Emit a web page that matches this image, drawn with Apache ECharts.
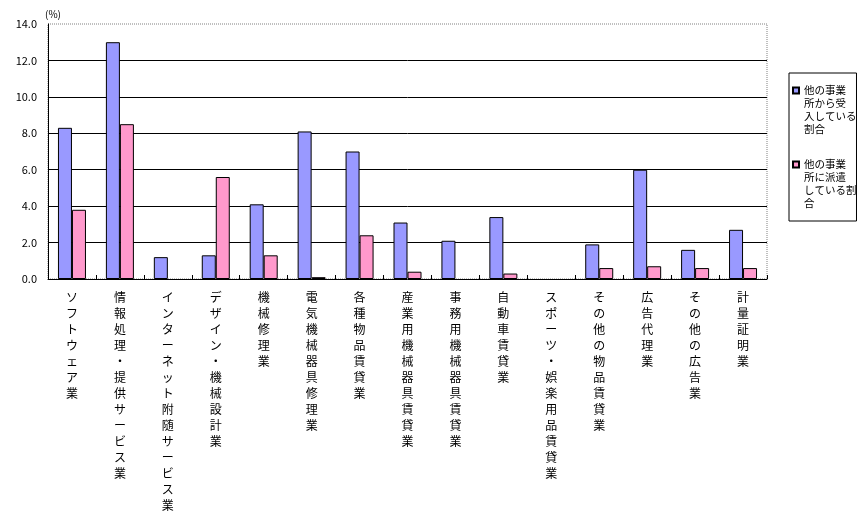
<!DOCTYPE html>
<html>
<head>
<meta charset="utf-8">
<script src="https://cdn.jsdelivr.net/npm/echarts@6/dist/echarts.min.js"></script>
<style>
  html, body { margin: 0; padding: 0; background: #fff; }
  #chart { width: 863px; height: 521px; }
</style>
</head>
<body>
<div id="chart"></div>
<script>
// 業種
var categories = [
  'ソフトウェア業',
  '情報処理・提供サービス業',
  'インターネット附随サービス業',
  'デザイン・機械設計業',
  '機械修理業',
  '電気機械器具修理業',
  '各種物品賃貸業',
  '産業用機械器具賃貸業',
  '事務用機械器具賃貸業',
  '自動車賃貸業',
  'スポーツ・娯楽用品賃貸業',
  'その他の物品賃貸業',
  '広告代理業',
  'その他の広告業',
  '計量証明業'
];
// 他の事業所から受入している割合 (%)
var receivedShare = [8.3, 13.0, 1.2, 1.3, 4.1, 8.1, 7.0, 3.1, 2.1, 3.4, 0, 1.9, 6.0, 1.6, 2.7];
// 他の事業所に派遣している割合 (%)
var dispatchedShare = [3.8, 8.5, 0, 5.6, 1.3, 0.1, 2.4, 0.4, 0, 0.3, 0, 0.6, 0.7, 0.6, 0.6];

var seriesNames = ['他の事業所から受入している割合', '他の事業所に派遣している割合'];
// 凡例の折り返し
var legendLines = {
  '他の事業所から受入している割合': ['他の事業', '所から受', '入している', '割合'],
  '他の事業所に派遣している割合': ['他の事業', '所に派遣', 'している割', '合']
};
var yMin = 0, yMax = 14, yStep = 2;

var font = '"Noto Sans CJK JP", sans-serif';
var chart = echarts.init(document.getElementById('chart'));

// 0のときは枠線を描かない
function toBarData(arr) {
  return arr.map(function (v) {
    return v === 0 ? { value: v, itemStyle: { borderWidth: 0 } } : v;
  });
}

var option = {
  backgroundColor: '#fff',
  animation: false,
  textStyle: { fontFamily: font, color: '#000' },
  grid: {
    left: 48, right: 96, top: 24, bottom: 242,
    show: true,
    borderColor: '#808080',
    borderWidth: 1,
    borderType: 'dotted'
  },
  legend: {
    orient: 'vertical',
    left: 789,
    top: 73,
    padding: [10, 0, 10, 3],
    borderColor: '#000',
    borderWidth: 1,
    itemWidth: 6,
    itemHeight: 52,
    itemGap: 20,
    selectedMode: false,
    icon: 'path://M0,0M0,3.5h6v6h-6zM0,52',
    textStyle: { fontFamily: font, fontSize: 10.5, lineHeight: 13, color: '#000' },
    formatter: function (name) { return legendLines[name].join('\n'); },
    data: seriesNames
  },
  xAxis: {
    type: 'category',
    data: categories,
    axisLine: { show: true, lineStyle: { color: '#000', width: 1 } },
    axisTick: { show: true, inside: true, length: 4, interval: 0, lineStyle: { color: '#000' } },
    axisLabel: {
      interval: 0,
      margin: 10,
      fontFamily: font,
      fontSize: 12,
      lineHeight: 16,
      color: '#000',
      verticalAlign: 'top',
      formatter: function (v) { return v.split('').join('\n'); }
    },
    splitLine: { show: false }
  },
  yAxis: {
    type: 'value',
    min: yMin,
    max: yMax,
    interval: yStep,
    name: '(%)',
    nameLocation: 'end',
    nameGap: 5,
    nameTextStyle: { fontFamily: font, fontSize: 10, color: '#000', padding: [0, 0, 0, 10] },
    axisLine: { show: true, lineStyle: { color: '#000', width: 1 } },
    axisTick: { show: false },
    axisLabel: {
      margin: 11,
      fontFamily: font,
      fontSize: 11,
      color: '#000',
      formatter: function (v) { return v.toFixed(1); }
    },
    splitLine: {
      show: true,
      showMinLine: false,
      showMaxLine: false,
      lineStyle: { color: '#000', width: 1 }
    }
  },
  series: [
    {
      name: seriesNames[0],
      type: 'bar',
      data: toBarData(receivedShare),
      barWidth: 14,
      barGap: '0%',
      itemStyle: { color: '#9999FF', borderColor: '#000', borderWidth: 1 }
    },
    {
      name: seriesNames[1],
      type: 'bar',
      data: toBarData(dispatchedShare),
      barWidth: 14,
      barGap: '0%',
      itemStyle: { color: '#FF99CC', borderColor: '#000', borderWidth: 1 }
    }
  ]
};
chart.setOption(option);
</script>
</body>
</html>
